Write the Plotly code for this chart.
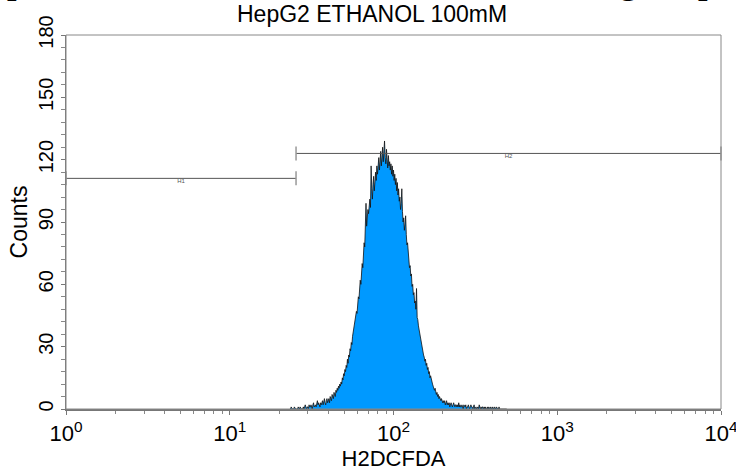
import plotly.graph_objects as go

# ---------------- data ----------------
# histogram: 1024 log channels spanning 10^0..10^4 (256 channels per decade)
channels_per_decade = 256
first_channel = 350
counts = [
    0, 0, 1, 0, 0, 0, 0, 1, 0, 0, 0, 0, 0, 1, 0, 0, 1, 0, 0, 0,          # 350
    0, 1, 0, 1, 2, 1, 0, 1, 1, 0, 2, 1, 1, 2, 1, 0, 2, 3, 1, 2,          # 370
    2, 1, 3, 4, 2, 3, 2, 1, 3, 2, 3, 4, 2, 3, 5, 3, 2, 4, 5, 3,          # 390
    4, 5, 3, 6, 5, 4, 7, 6, 5, 8, 7, 6, 9, 8, 10, 9, 11, 10, 12, 11,     # 410
    13, 12, 15, 14, 17, 16, 19, 18, 21, 20, 24, 22, 26, 25, 29, 28, 32, 31, 35, 37,   # 430
    38, 40, 41, 45, 47, 46, 51, 54, 53, 58, 62, 60, 66, 70, 68, 76, 80, 78, 86, 99,   # 450
    88, 93, 96, 94, 99, 101, 97, 117, 106, 101, 108, 112, 105, 110, 114, 110, 117, 113, 119, 121,  # 470
    115, 120, 124, 117, 122, 126, 119, 123, 129, 121, 118, 125, 120, 116, 122, 117, 119, 115, 118, 113,  # 490
    117, 112, 115, 110, 113, 108, 111, 105, 109, 103, 106, 100, 102, 96, 99, 106, 95, 90, 92, 86,  # 510
    89, 93, 84, 79, 80, 74, 75, 68, 69, 64, 65, 59, 60, 55, 56, 51, 52, 48, 58, 44,   # 530
    43, 40, 38, 36, 35, 32, 31, 29, 28, 26, 25, 23, 24, 21, 22, 19, 20, 17, 18, 15,   # 550
    16, 14, 13, 12, 11, 10, 9, 10, 8, 7, 8, 6, 7, 5, 6, 5, 4, 5, 4, 3,   # 570
    4, 3, 4, 2, 3, 4, 2, 3, 2, 3, 1, 2, 3, 2, 1, 2, 3, 2, 1, 2,          # 590
    2, 1, 2, 1, 3, 1, 2, 1, 1, 2, 1, 0, 2, 1, 1, 2, 0, 1, 1, 2,          # 610
    1, 0, 1, 2, 1, 1, 0, 1, 2, 0, 1, 1, 0, 1, 1, 0, 2, 1, 0, 1,          # 630
    0, 1, 1, 0, 1, 0, 1, 0, 0, 1, 0, 1, 0, 0, 1, 0, 0, 1, 0, 0,          # 650
    1, 0, 0, 1, 0, 0, 0, 1, 0, 0, 0, 0, 0, 0, 0, 0, 0, 0, 0, 0,          # 670
]
intensity = [10 ** ((first_channel + i) / channels_per_decade) for i in range(len(counts))]

# marker gates
gate_names = ["H1", "H2"]
gate_low = [1.0, 25.4]
gate_high = [25.4, 10000.0]
gate_level = [111, 123]

x_tick_vals = [1, 10, 100, 1000, 10000]
x_tick_text = ["10<sup>0</sup>", "10<sup>1</sup>", "10<sup>2</sup>", "10<sup>3</sup>", "10<sup>4</sup>"]
y_tick_vals = [0, 30, 60, 90, 120, 150, 180]

subtitle = "HepG2 ETHANOL 100mM"
x_label = "H2DCFDA"
y_label = "Counts"

# ---------------- figure ----------------
W, H = 736, 475
L, R, T, B = 66, 15, 35, 66
SANS = "Liberation Sans, Arial, Helvetica, sans-serif"
SERIF = "Liberation Serif, Times New Roman, serif"

fig = go.Figure()

fig.add_trace(go.Scatter(
    x=intensity, y=counts, mode="lines",
    line=dict(color="#111111", width=0.8),
    fill="tozeroy", fillcolor="rgb(0,153,255)",
    hoverinfo="skip", showlegend=False,
))

for name, lo, hi, lvl in zip(gate_names, gate_low, gate_high, gate_level):
    fig.add_trace(go.Scatter(
        x=[lo, hi], y=[lvl, lvl], mode="lines+markers",
        line=dict(color="#555555", width=1),
        marker=dict(symbol="line-ns", size=10, line=dict(color="#999999", width=1.5)),
        hoverinfo="skip", showlegend=False, cliponaxis=False,
    ))
    fig.add_trace(go.Scatter(
        x=[(lo * hi) ** 0.5], y=[lvl], mode="text", text=[name],
        textposition="bottom center",
        textfont=dict(family=SANS, size=6, color="#555555"),
        hoverinfo="skip", showlegend=False,
    ))

def px_x(p):
    return (p - L) / (W - L - R)

def px_y(p):
    return (H - B - p) / (H - T - B)

annotations = [
    dict(text=subtitle, xref="paper", yref="paper", x=px_x(372), y=px_y(14),
         xanchor="center", yanchor="middle", showarrow=False,
         font=dict(family=SANS, size=23, color="black")),
]
# clipped bold title above the canvas (only descenders visible)
for ch, xp in [("p", 16), ("g", 628), ("p", 707)]:
    annotations.append(dict(text="<b>%s</b>" % ch, xref="paper", yref="paper",
                            x=px_x(xp), y=px_y(-18), xanchor="center", yanchor="middle",
                            showarrow=False,
                            font=dict(family=SERIF, size=34, color="black")))

fig.update_layout(
    width=W, height=H,
    margin=dict(l=L, r=R, t=T, b=B, autoexpand=False),
    paper_bgcolor="white", plot_bgcolor="white",
    annotations=annotations,
    shapes=[dict(type="rect", xref="paper", yref="paper", x0=0, x1=1, y0=0, y1=1,
                 line=dict(color="#888888", width=1), layer="above")],
    xaxis=dict(
        type="log", range=[0, 4], tickvals=x_tick_vals, ticktext=x_tick_text,
        ticklabeloverflow="allow",
        tickfont=dict(family=SANS, size=22, color="black"),
        ticks="outside", ticklen=4, tickcolor="#777777",
        minor=dict(ticks="outside", ticklen=3, tickcolor="#888888", dtick="D1"),
        showline=True, linecolor="#777777", linewidth=2,
        showgrid=False, zeroline=False,
        title=dict(text=x_label, font=dict(family=SANS, size=22, color="black"), standoff=2),
    ),
    yaxis=dict(
        range=[0, 180], tickvals=y_tick_vals, tickangle=-90,
        tickfont=dict(family=SANS, size=20, color="black"),
        ticks="outside", ticklen=4, tickcolor="#777777",
        minor=dict(ticks="outside", ticklen=4, tickcolor="#888888", dtick=6),
        showline=True, linecolor="#777777", linewidth=1,
        showgrid=False, zeroline=False,
        title=dict(text=y_label, font=dict(family=SANS, size=23, color="black"), standoff=0),
    ),
)

fig.write_html("out.html")
